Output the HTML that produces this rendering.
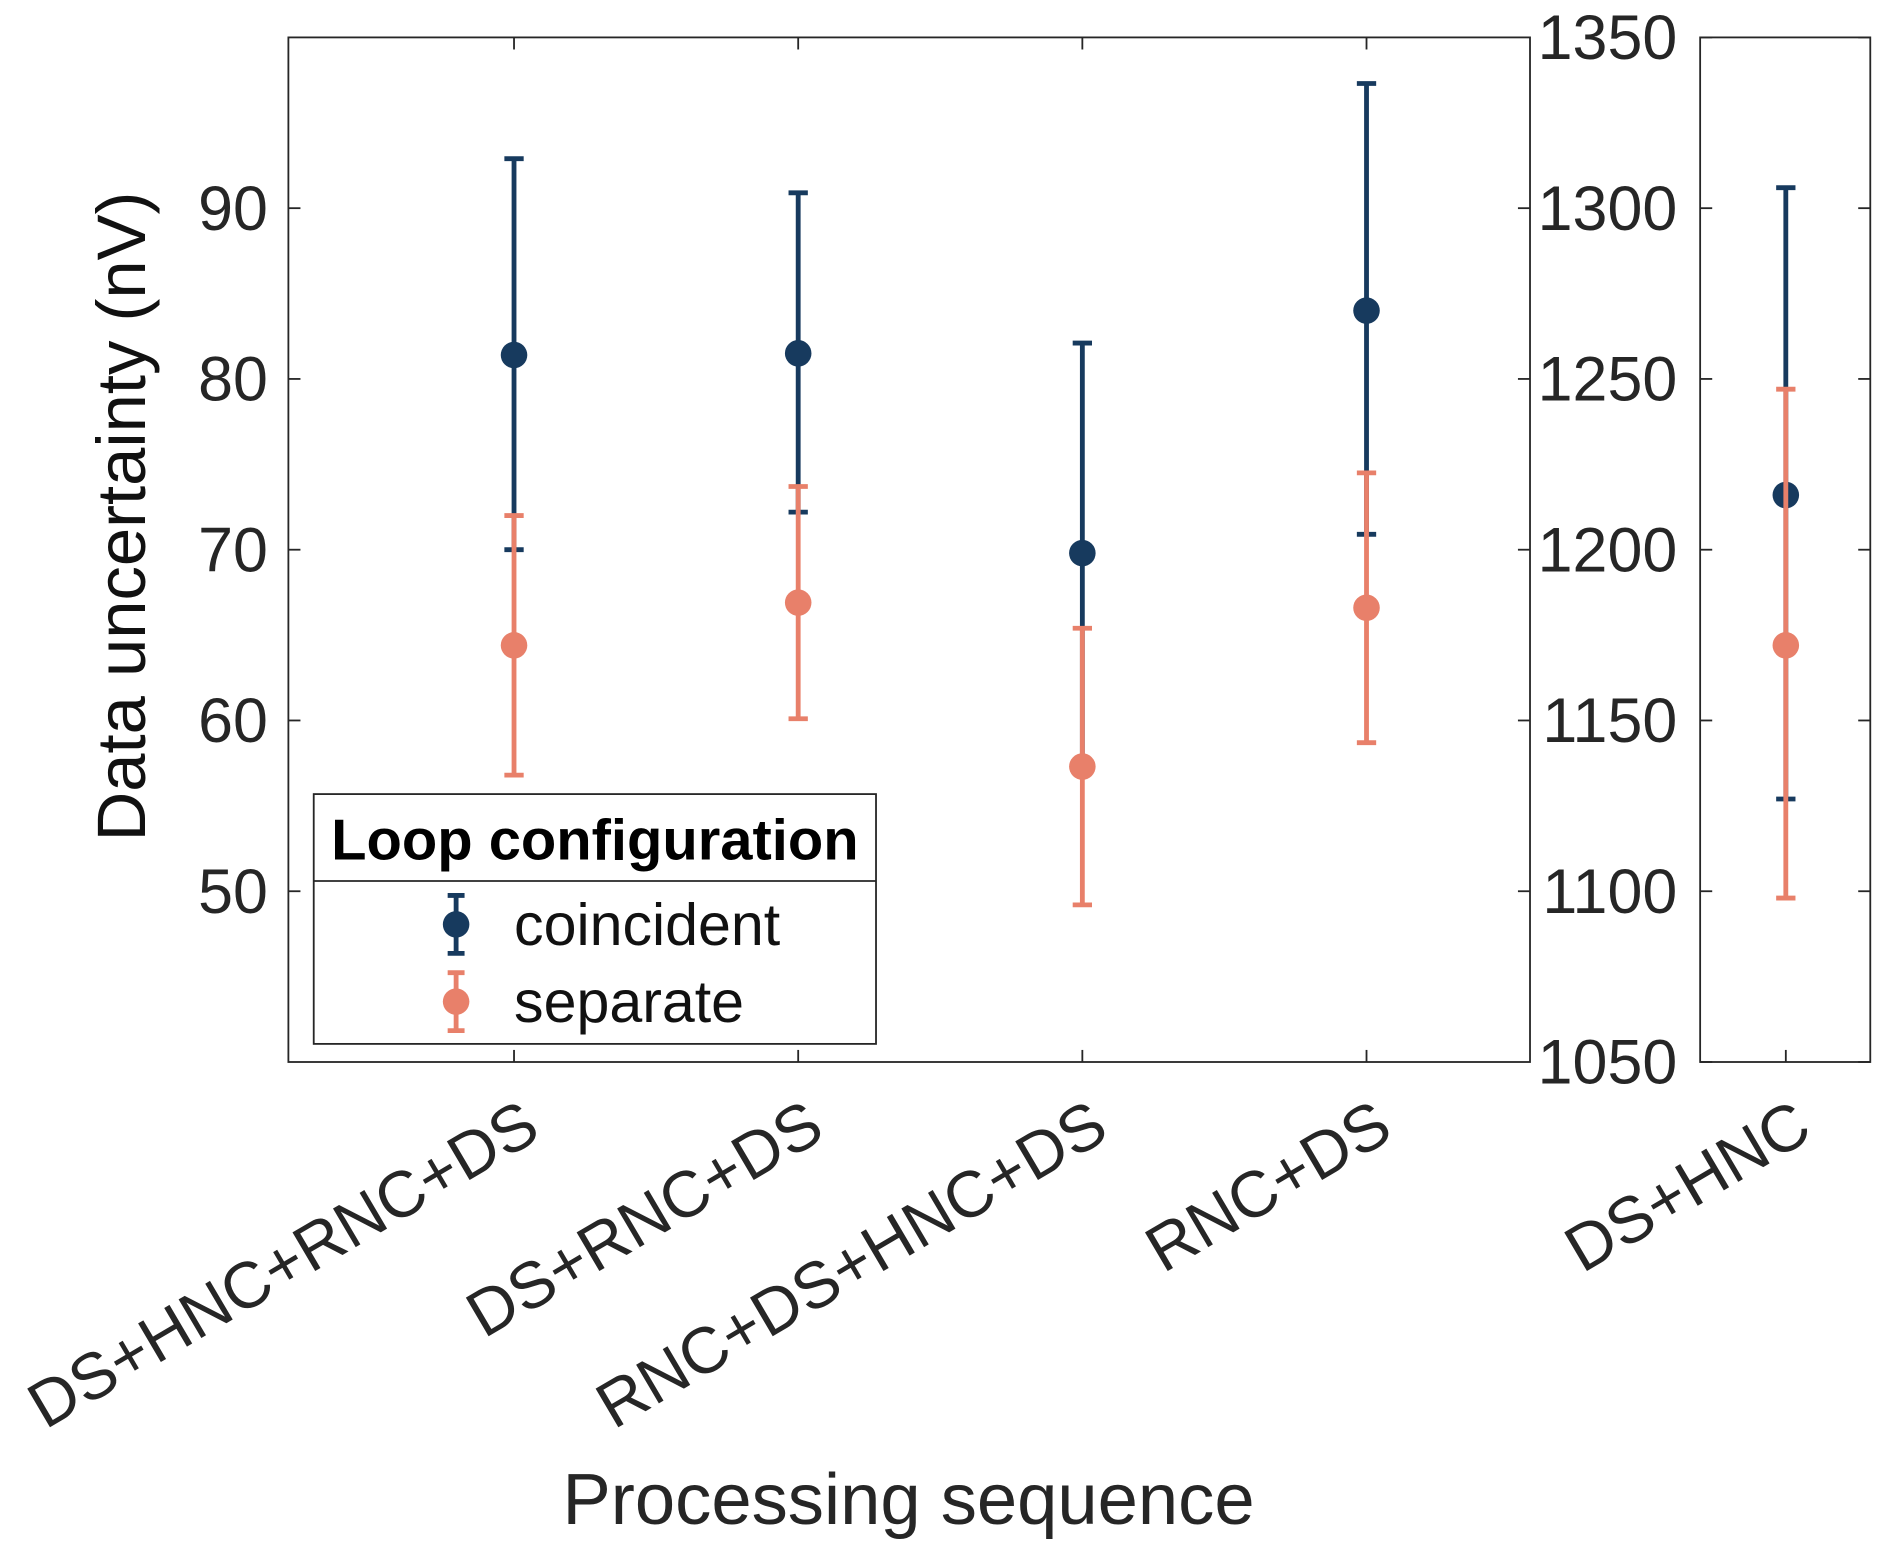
<!DOCTYPE html>
<html><head><meta charset="utf-8"><style>
html,body{margin:0;padding:0;background:#fff}
svg{display:block;font-family:"Liberation Sans",Arial,sans-serif}
</style></head><body>
<svg id="chart" width="1892" height="1558" viewBox="0 0 1568 1291" preserveAspectRatio="none" xmlns="http://www.w3.org/2000/svg">
<rect width="1568" height="1291" fill="#fff"/>
<g id="g"></g>
</svg>
<script>
const categories = ["DS+HNC+RNC+DS","DS+RNC+DS","RNC+DS+HNC+DS","RNC+DS"];
const coincMean = [81.4, 81.5, 69.8, 84.0];
const coincUpper = [92.9, 90.9, 82.1, 97.3];
const coincLower = [70.0, 72.2, 57.5, 70.9];
const sepMean = [64.4, 66.9, 57.3, 66.6];
const sepUpper = [72.0, 73.7, 65.4, 74.5];
const sepLower = [56.8, 60.1, 49.2, 58.7];
const leftTicks = [50, 60, 70, 80, 90];
const rightCategory = "DS+HNC";
const rightCoinc = [1216, 1306, 1127]; // mean, upper, lower
const rightSep = [1172, 1247, 1098];
const rightTicks = [1050, 1100, 1150, 1200, 1250, 1300, 1350];

const NS = "http://www.w3.org/2000/svg";
const g = document.getElementById('g');
function el(tag, attrs, parent){const e=document.createElementNS(NS,tag);for(const k in attrs)e.setAttribute(k,attrs[k]);(parent||g).appendChild(e);return e;}
const DARK="#173a5e", ORANGE="#e8806a", AX="#262626";
const yL = v => 880 - (v-40)/60*849;
const xL = i => 426 + i*235.5;
const yR = v => 880 - (v-1050)/300*849;
const xR = 1480;

let a=el('rect',{x:239,y:31,width:1029,height:849,fill:'none',stroke:AX,'stroke-width':1.5});


let b=el('rect',{x:1409,y:31,width:141,height:849,fill:'none',stroke:AX,'stroke-width':1.5});



leftTicks.forEach(v=>{
  el('line',{x1:239,x2:249,y1:yL(v),y2:yL(v),stroke:AX,'stroke-width':1.5});
  el('line',{x1:1258,x2:1268,y1:yL(v),y2:yL(v),stroke:AX,'stroke-width':1.5});
  const t=el('text',{x:222,y:yL(v)+18,'text-anchor':'end','font-size':52,fill:AX});
  t.textContent=v;
  
  
});
rightTicks.forEach(v=>{
  el('line',{x1:1409,x2:1419,y1:yR(v),y2:yR(v),stroke:AX,'stroke-width':1.5});
  el('line',{x1:1540,x2:1550,y1:yR(v),y2:yR(v),stroke:AX,'stroke-width':1.5});
  const t=el('text',{x:1390,y:yR(v)+18,'text-anchor':'end','font-size':52,fill:AX});
  t.textContent=v;
  
  
});

function errbar(x,yTop,yBot,yMid,color,name){
  const grp=el('g',{});
  
  
  el('line',{x1:x,x2:x,y1:yTop,y2:yBot,stroke:color,'stroke-width':4},grp);
  el('line',{x1:x-8,x2:x+8,y1:yTop,y2:yTop,stroke:color,'stroke-width':4},grp);
  el('line',{x1:x-8,x2:x+8,y1:yBot,y2:yBot,stroke:color,'stroke-width':4},grp);
  el('circle',{cx:x,cy:yMid,r:11,fill:color},grp);
}
categories.forEach((c,i)=>{
  const x=xL(i);
  el('line',{x1:x,x2:x,y1:870,y2:880,stroke:AX,'stroke-width':1.5});
  el('line',{x1:x,x2:x,y1:31,y2:41,stroke:AX,'stroke-width':1.5});
  errbar(x,yL(coincUpper[i]),yL(coincLower[i]),yL(coincMean[i]),DARK,'coincident-point');
});
categories.forEach((c,i)=>{
  const x=xL(i);
  errbar(x,yL(sepUpper[i]),yL(sepLower[i]),yL(sepMean[i]),ORANGE,'separate-point');
  const t=el('text',{x:0,y:0,'text-anchor':'end','font-size':54,fill:AX,transform:`translate(${x+24},${942}) rotate(-30.5)`});
  t.textContent=c;
  
  
});
el('line',{x1:xR,x2:xR,y1:870,y2:880,stroke:AX,'stroke-width':1.5});
errbar(xR,yR(rightCoinc[1]),yR(rightCoinc[2]),yR(rightCoinc[0]),DARK,'coincident-point');
errbar(xR,yR(rightSep[1]),yR(rightSep[2]),yR(rightSep[0]),ORANGE,'separate-point');
let rt=el('text',{x:0,y:0,'text-anchor':'end','font-size':54,fill:AX,transform:`translate(${xR+24},942) rotate(-30.5)`});
rt.textContent=rightCategory;



let yl=el('text',{x:0,y:0,'text-anchor':'middle','font-size':57,fill:'#111',transform:'translate(120,428) rotate(-90)'});
yl.textContent='Data uncertainty (nV)';


let xl=el('text',{x:753,y:1263,'text-anchor':'middle','font-size':60,fill:'#262626'});
xl.textContent='Processing sequence';



const lg=el('g',{});


el('rect',{x:260,y:658,width:466,height:207,fill:'#fff',stroke:AX,'stroke-width':1.5},lg);
el('line',{x1:260,x2:726,y1:730,y2:730,stroke:AX,'stroke-width':1.5},lg);
let lt=el('text',{x:493,y:712,'text-anchor':'middle','font-size':48,'font-weight':'bold',fill:'#000'},lg);
lt.textContent='Loop configuration';


[[DARK,'coincident',766],[ORANGE,'separate',830]].forEach(([c,n,y])=>{
  const e=el('g',{},lg);
  
  
  el('line',{x1:378,x2:378,y1:y-24,y2:y+24,stroke:c,'stroke-width':4},e);
  el('line',{x1:371,x2:385,y1:y-24,y2:y-24,stroke:c,'stroke-width':4},e);
  el('line',{x1:371,x2:385,y1:y+24,y2:y+24,stroke:c,'stroke-width':4},e);
  el('circle',{cx:378,cy:y,r:11,fill:c},e);
  const t=el('text',{x:426,y:y+17,'font-size':49,fill:'#111'},e);
  t.textContent=n;
});
</script>
</body></html>
